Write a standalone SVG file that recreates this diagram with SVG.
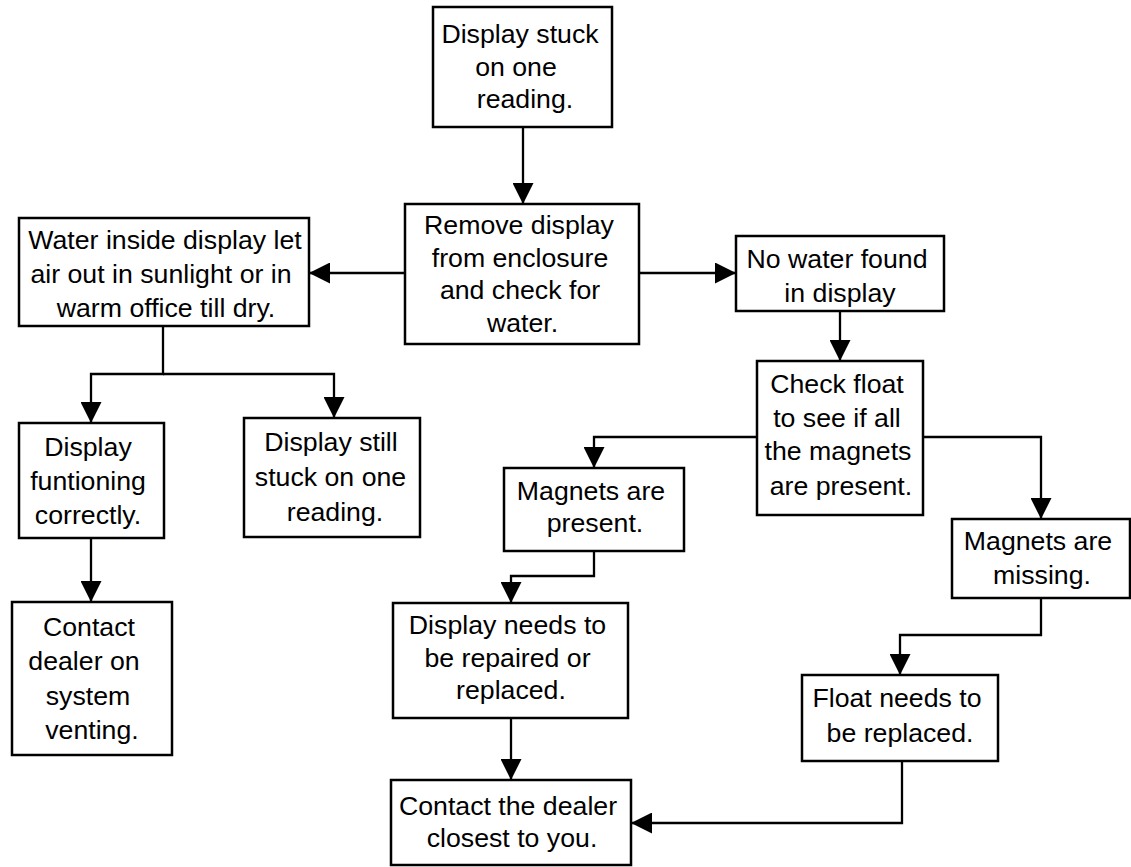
<svg xmlns="http://www.w3.org/2000/svg" width="1131" height="867" viewBox="0 0 1131 867">
<style>
.box{fill:#fff;stroke:#000;stroke-width:2.5}
.t{font-family:"Liberation Sans",Arial,sans-serif;font-size:26.7px;fill:#000;text-anchor:middle}
.c{fill:none;stroke:#000;stroke-width:2.3}
</style>
<defs>
<marker id="ah" viewBox="0 0 20 20" refX="20" refY="10" markerWidth="21" markerHeight="21" markerUnits="userSpaceOnUse" orient="auto">
<path d="M0,0 L20,10 L0,20 Z" fill="#000"/>
</marker>
</defs>
<rect width="1131" height="867" fill="#fff"/>
<g id="connectors">
<path class="c" d="M523,127 V204" marker-end="url(#ah)"/>
<path class="c" d="M405,273 H309" marker-end="url(#ah)"/>
<path class="c" d="M639,273 H736" marker-end="url(#ah)"/>
<path class="c" d="M163,326 V374 H91 V423" marker-end="url(#ah)"/>
<path class="c" d="M163,374 H334 V418" marker-end="url(#ah)"/>
<path class="c" d="M91,538 V602" marker-end="url(#ah)"/>
<path class="c" d="M840,311 V361" marker-end="url(#ah)"/>
<path class="c" d="M757,437 H594 V468" marker-end="url(#ah)"/>
<path class="c" d="M923,437 H1041 V519" marker-end="url(#ah)"/>
<path class="c" d="M594,551 V576 H511 V603" marker-end="url(#ah)"/>
<path class="c" d="M511,718 V780" marker-end="url(#ah)"/>
<path class="c" d="M1041,598 V635 H900 V675" marker-end="url(#ah)"/>
<path class="c" d="M902,761 V823 H631" marker-end="url(#ah)"/>
</g>
<g id="n1"><rect class="box" x="433" y="7" width="179" height="120"/>
<text class="t"><tspan x="520" y="43">Display stuck</tspan><tspan x="516" y="75.5">on one</tspan><tspan x="525" y="108">reading.</tspan></text></g>
<g id="n2"><rect class="box" x="405" y="204" width="234" height="140"/>
<text class="t"><tspan x="519" y="234">Remove display</tspan><tspan x="520" y="267">from enclosure</tspan><tspan x="520" y="299">and check for</tspan><tspan x="522.5" y="332">water.</tspan></text></g>
<g id="n3"><rect class="box" x="19" y="218" width="290" height="108"/>
<text class="t"><tspan x="165" y="249">Water inside display let</tspan><tspan x="161" y="283">air out in sunlight or in</tspan><tspan x="166" y="317">warm office till dry.</tspan></text></g>
<g id="n4"><rect class="box" x="19" y="423" width="145" height="115"/>
<text class="t"><tspan x="88" y="456">Display</tspan><tspan x="88" y="490">funtioning</tspan><tspan x="88" y="524">correctly.</tspan></text></g>
<g id="n5"><rect class="box" x="244" y="418" width="176" height="119"/>
<text class="t"><tspan x="331" y="451">Display still</tspan><tspan x="330.5" y="486">stuck on one</tspan><tspan x="335" y="521">reading.</tspan></text></g>
<g id="n6"><rect class="box" x="12" y="602" width="160" height="153"/>
<text class="t"><tspan x="89" y="636">Contact</tspan><tspan x="84" y="670">dealer on</tspan><tspan x="88" y="705">system</tspan><tspan x="92" y="739">venting.</tspan></text></g>
<g id="n7"><rect class="box" x="736" y="236" width="208" height="75"/>
<text class="t"><tspan x="837" y="268">No water found</tspan><tspan x="840" y="302">in display</tspan></text></g>
<g id="n8"><rect class="box" x="757" y="361" width="166" height="154"/>
<text class="t"><tspan x="837" y="393">Check float</tspan><tspan x="837" y="427">to see if all</tspan><tspan x="838" y="460">the magnets</tspan><tspan x="841" y="495">are present.</tspan></text></g>
<g id="n9"><rect class="box" x="504" y="468" width="180" height="83"/>
<text class="t"><tspan x="591" y="500">Magnets are</tspan><tspan x="595" y="532">present.</tspan></text></g>
<g id="n10"><rect class="box" x="952" y="519" width="178" height="79"/>
<text class="t"><tspan x="1038" y="550">Magnets are</tspan><tspan x="1042" y="584">missing.</tspan></text></g>
<g id="n11"><rect class="box" x="393" y="603" width="235" height="115"/>
<text class="t"><tspan x="507.5" y="634">Display needs to</tspan><tspan x="507.5" y="667">be repaired or</tspan><tspan x="511" y="699">replaced.</tspan></text></g>
<g id="n12"><rect class="box" x="802" y="675" width="196" height="86"/>
<text class="t"><tspan x="897" y="707">Float needs to</tspan><tspan x="900" y="742">be replaced.</tspan></text></g>
<g id="n13"><rect class="box" x="391" y="780" width="240" height="85"/>
<text class="t"><tspan x="508" y="815">Contact the dealer</tspan><tspan x="512" y="847">closest to you.</tspan></text></g>
</svg>
